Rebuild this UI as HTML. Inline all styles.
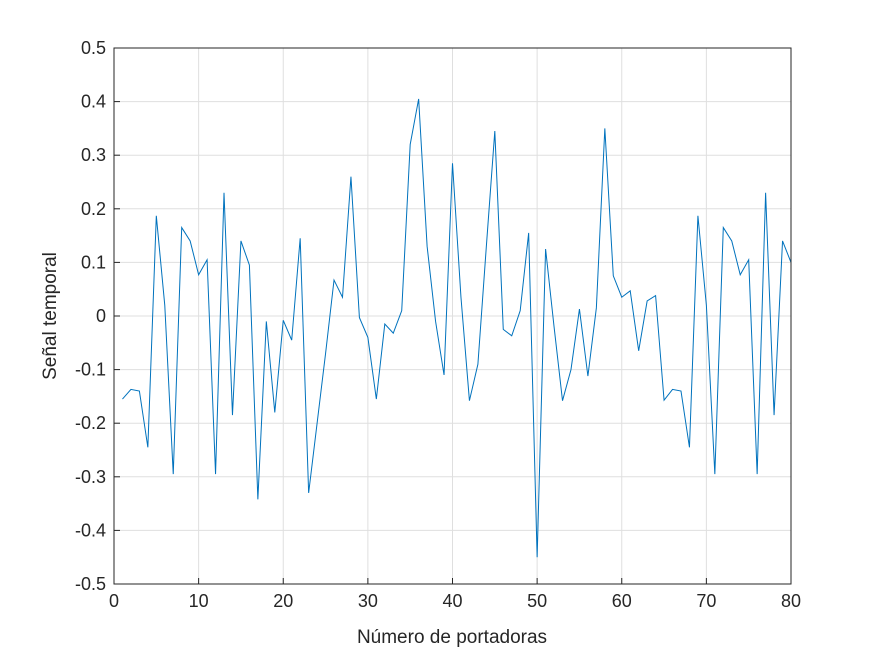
<!DOCTYPE html>
<html>
<head>
<meta charset="utf-8">
<style>
  html,body{margin:0;padding:0;background:#fff;}
  svg{display:block;font-family:"Liberation Sans",Arial,sans-serif;}
</style>
</head>
<body>
<svg id="chart" width="875" height="656" xmlns="http://www.w3.org/2000/svg">
  <rect width="875" height="656" fill="#ffffff"/>
  <g id="grid"></g>
  <g id="series"></g>
  <rect x="114" y="48" width="677" height="536" fill="none" stroke="#262626" stroke-width="1"/>
  <g id="ticks"></g>
  <text x="452" y="643" text-anchor="middle" font-size="19" fill="#262626">Número de portadoras</text>
  <text transform="translate(56,316) rotate(-90)" text-anchor="middle" font-size="19" fill="#262626">Señal temporal</text>
</svg>
<script>
const xTicks = [0,10,20,30,40,50,60,70,80];
const yTicks = [-0.5,-0.4,-0.3,-0.2,-0.1,0,0.1,0.2,0.3,0.4,0.5];
const yTickLabels = ["-0.5","-0.4","-0.3","-0.2","-0.1","0","0.1","0.2","0.3","0.4","0.5"];
const values = [-0.155,-0.137,-0.14,-0.245,0.187,0.02,-0.295,0.165,0.14,0.077,
  0.105,-0.295,0.23,-0.185,0.14,0.095,-0.342,-0.01,-0.18,-0.008,
  -0.045,0.145,-0.33,-0.2,-0.07,0.067,0.035,0.26,-0.003,-0.04,
  -0.155,-0.015,-0.032,0.01,0.32,0.405,0.13,-0.01,-0.11,0.285,
  0.035,-0.158,-0.09,0.13,0.345,-0.025,-0.037,0.01,0.155,-0.45,
  0.125,-0.02,-0.158,-0.1,0.013,-0.112,0.015,0.35,0.075,0.035,
  0.047,-0.065,0.028,0.038,-0.157,-0.137,-0.14,-0.245,0.187,0.02,
  -0.295,0.165,0.14,0.077,0.105,-0.295,0.23,-0.185,0.14,0.1];

const L=114,R=791,T=48,B=584;
function xs(v){return L+(v-0)/(80-0)*(R-L);}
function ys(v){return B-(v+0.5)/1.0*(B-T);}
const NS="http://www.w3.org/2000/svg";
const grid=document.getElementById('grid');
const ticks=document.getElementById('ticks');
const series=document.getElementById('series');

xTicks.forEach(t=>{
  const x=xs(t);
  const g=document.createElementNS(NS,'line');
  g.setAttribute('x1',x);g.setAttribute('x2',x);g.setAttribute('y1',T);g.setAttribute('y2',B);
  g.setAttribute('stroke','#dfdfdf');g.setAttribute('stroke-width','1');
  
  
  grid.appendChild(g);
  const tk=document.createElementNS(NS,'line');
  tk.setAttribute('x1',x);tk.setAttribute('x2',x);tk.setAttribute('y1',B);tk.setAttribute('y2',B-6);
  tk.setAttribute('stroke','#262626');
  
  
  ticks.appendChild(tk);
  const tx=document.createElementNS(NS,'text');
  tx.setAttribute('x',x);tx.setAttribute('y',B+23);
  tx.setAttribute('text-anchor','middle');tx.setAttribute('font-size','18');tx.setAttribute('fill','#262626');
  tx.textContent=t;
  
  
  ticks.appendChild(tx);
});
yTicks.forEach((t,i)=>{
  const y=ys(t);
  const g=document.createElementNS(NS,'line');
  g.setAttribute('x1',L);g.setAttribute('x2',R);g.setAttribute('y1',y);g.setAttribute('y2',y);
  g.setAttribute('stroke','#dfdfdf');g.setAttribute('stroke-width','1');
  
  
  grid.appendChild(g);
  const tk=document.createElementNS(NS,'line');
  tk.setAttribute('x1',L);tk.setAttribute('x2',L+6);tk.setAttribute('y1',y);tk.setAttribute('y2',y);
  tk.setAttribute('stroke','#262626');
  
  
  ticks.appendChild(tk);
  const tx=document.createElementNS(NS,'text');
  tx.setAttribute('x',L-8);tx.setAttribute('y',y+6);
  tx.setAttribute('text-anchor','end');tx.setAttribute('font-size','18');tx.setAttribute('fill','#262626');
  tx.textContent=yTickLabels[i];
  
  
  ticks.appendChild(tx);
});
const pts=values.map((v,i)=>xs(i+1).toFixed(2)+','+ys(v).toFixed(2)).join(' ');
const pl=document.createElementNS(NS,'polyline');
pl.setAttribute('points',pts);
pl.setAttribute('fill','none');pl.setAttribute('stroke','#0072bd');pl.setAttribute('stroke-width','1');


series.appendChild(pl);
</script>
</body>
</html>
